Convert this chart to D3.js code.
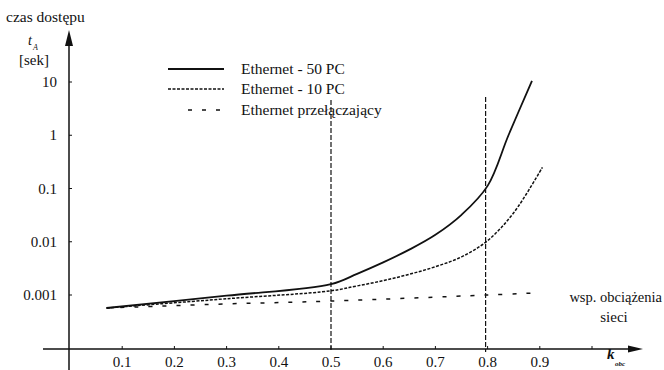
<!DOCTYPE html>
<html><head><meta charset="utf-8">
<script src="https://cdn.jsdelivr.net/npm/d3@7"></script>
<style>
html,body{margin:0;padding:0;background:#fff;}
svg{display:block;}
text{font-family:"Liberation Serif","Times New Roman",serif;fill:#111;}
</style></head>
<body>
<svg id="c" width="664" height="370"></svg>
<script>
// Data
const xTicks = [0.1,0.2,0.3,0.4,0.5,0.6,0.7,0.8,0.9,1.0];
const xTickLabels = ["0.1","0.2","0.3","0.4","0.5","0.6","0.7","0.8","0.9",""];
const yTicks = [10,1,0.1,0.01,0.001];
const yTickLabels = ["10","1","0.1","0.01","0.001"];
const seriesNames = ["Ethernet - 50 PC","Ethernet - 10 PC","Ethernet przełączający"];
const eth50 = [[0.07,0.00057],[0.3,0.00097],[0.5,0.0016],[0.55,0.0025],[0.6,0.0041],[0.65,0.0071],[0.7,0.0135],[0.75,0.032],[0.8,0.112],[0.84,1.0],[0.885,10.5]];
const eth10 = [[0.07,0.00057],[0.3,0.00085],[0.5,0.0012],[0.55,0.00148],[0.6,0.00186],[0.65,0.00245],[0.7,0.0034],[0.75,0.0052],[0.8,0.0105],[0.85,0.035],[0.905,0.25]];
const ethSw = [[0.07,0.00057],[0.3,0.00068],[0.5,0.00077],[0.8,0.001],[0.9,0.0011]];
const markers = [0.5,0.8];

const svg = d3.select("#c");
const x = d3.scaleLinear().domain([0,1]).range([70,592]);
const y = d3.scaleLog().domain([0.001,10]).range([295,82]);
const ink = "#111";

// axes
svg.append("line").attr("x1",43).attr("x2",632).attr("y1",349).attr("y2",349).attr("stroke",ink).attr("stroke-width",1.5);
svg.append("path").attr("d","M643,349 L628,345.5 L628,352.5 Z").attr("fill",ink);
svg.append("line").attr("x1",69).attr("x2",69).attr("y1",42).attr("y2",370).attr("stroke",ink).attr("stroke-width",1.5);
svg.append("path").attr("d","M69,30 L65,46 L73,46 Z").attr("fill",ink);

// x ticks
xTicks.forEach((t,i)=>{
  svg.append("line").attr("x1",x(t)).attr("x2",x(t)).attr("y1",349).attr("y2",346).attr("stroke",ink).attr("stroke-width",1);
  svg.append("text").attr("x",x(t)).attr("y",367).attr("text-anchor","middle").attr("font-size",15).text(xTickLabels[i]);
});
// y ticks
yTicks.forEach((t,i)=>{
  svg.append("line").attr("x1",69).attr("x2",72).attr("y1",y(t)).attr("y2",y(t)).attr("stroke",ink).attr("stroke-width",1);
  svg.append("text").attr("x",57).attr("y",y(t)+5).attr("text-anchor","end").attr("font-size",15).text(yTickLabels[i]);
});

// vertical markers
const vTop = [100,97], vOff = [0,-2];
markers.forEach((m,i)=>{
  svg.append("line").attr("x1",x(m)+vOff[i]).attr("x2",x(m)+vOff[i]).attr("y1",vTop[i]).attr("y2",352)
    .attr("stroke",ink).attr("stroke-width",1.2).attr("stroke-dasharray","5,2");
});

// curves
const line = d3.line().x(d=>x(d[0])).y(d=>y(d[1])).curve(d3.curveCatmullRom.alpha(0.5));
svg.append("path").datum(eth50).attr("d",line).attr("fill","none").attr("stroke",ink).attr("stroke-width",1.8);
svg.append("path").datum(eth10).attr("d",line).attr("fill","none").attr("stroke",ink).attr("stroke-width",1.5).attr("stroke-dasharray","3,1.5");
svg.append("path").datum(ethSw).attr("d",line).attr("fill","none").attr("stroke",ink).attr("stroke-width",1.5).attr("stroke-dasharray","4,10");

// legend
const styles = [{w:1.8,d:null},{w:1.5,d:"3,1.5"},{w:1.5,d:"4,10"}];
const ly = [69,89,110];
const lty = [74,94,115];
seriesNames.forEach((n,i)=>{
  const l = svg.append("line").attr("x1",i==2?188:168).attr("x2",224).attr("y1",ly[i]).attr("y2",ly[i]).attr("stroke",ink).attr("stroke-width",styles[i].w);
  if(styles[i].d) l.attr("stroke-dasharray",styles[i].d);
  svg.append("text").attr("x",241).attr("y",lty[i]).attr("font-size",15.5).text(n);
});

// axis titles
svg.append("text").attr("x",6).attr("y",22).attr("font-size",15.5).text("czas dostępu");
svg.append("text").attr("x",28).attr("y",45).attr("font-size",14).attr("font-style","italic").text("t");
svg.append("text").attr("x",33).attr("y",50).attr("font-size",8).attr("font-style","italic").text("A");
svg.append("text").attr("x",19).attr("y",65).attr("font-size",15).text("[sek]");
svg.append("text").attr("x",662).attr("y",302).attr("text-anchor","end").attr("font-size",14.5).text("wsp. obciążenia");
svg.append("text").attr("x",614).attr("y",322).attr("text-anchor","middle").attr("font-size",15).text("sieci");
svg.append("text").attr("x",607).attr("y",359).attr("font-size",15).attr("font-style","italic").attr("font-weight","bold").text("k");
svg.append("text").attr("x",615).attr("y",366).attr("font-size",7).attr("font-style","italic").attr("font-weight","bold").text("obc");
</script>
</body></html>
